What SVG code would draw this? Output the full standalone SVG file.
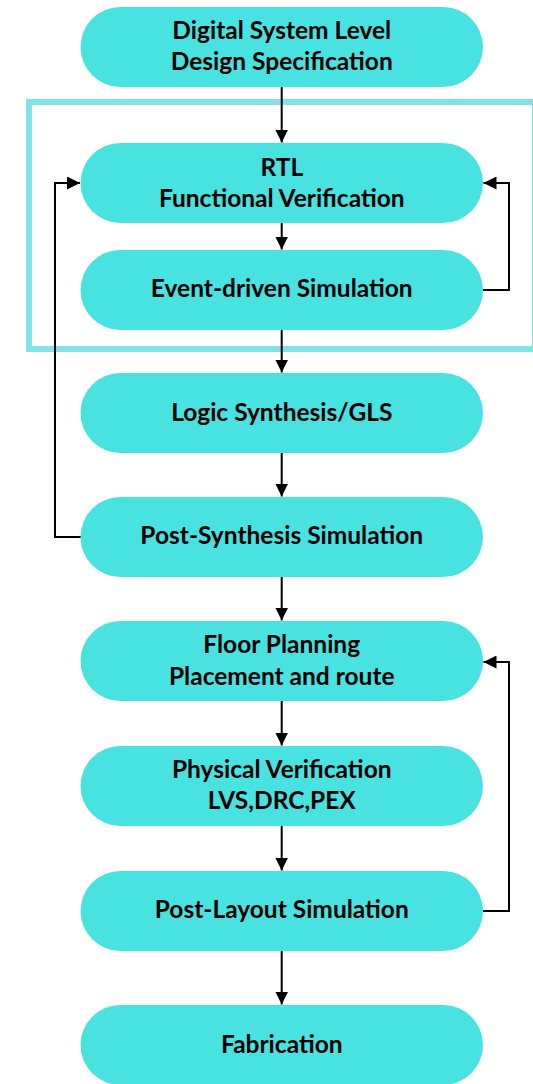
<svg xmlns="http://www.w3.org/2000/svg" width="533" height="1084" viewBox="0 0 533 1084">
<style>
.node{fill:#48E2E1;}
.lbl{font-family:Lato,"Liberation Sans",sans-serif;font-weight:bold;font-size:24.5px;fill:#000;text-anchor:middle;}
.edge{fill:none;stroke:#000;stroke-width:2;}
.frame{fill:none;stroke:#7FE3E8;stroke-width:6;}
</style>
<defs>
<marker id="arr" markerUnits="userSpaceOnUse" markerWidth="14" markerHeight="13" refX="13" refY="6.5" orient="auto">
<path d="M0,0 L13,6.5 L0,13 z" fill="#000"/>
</marker>
</defs>
<rect class="frame" x="29" y="102" width="506" height="247"/>
<g id="connectors">
<path class="edge" d="M281.7,87 V142.5" marker-end="url(#arr)"/>
<path class="edge" d="M281.7,223 V249.5" marker-end="url(#arr)"/>
<path class="edge" d="M281.7,330 V372.5" marker-end="url(#arr)"/>
<path class="edge" d="M281.7,453 V496.5" marker-end="url(#arr)"/>
<path class="edge" d="M281.7,577 V620.5" marker-end="url(#arr)"/>
<path class="edge" d="M281.7,701 V745.5" marker-end="url(#arr)"/>
<path class="edge" d="M281.7,826 V870.5" marker-end="url(#arr)"/>
<path class="edge" d="M281.7,951 V1004.5" marker-end="url(#arr)"/>
<path class="edge" d="M81,537 H55 V183 H80" marker-end="url(#arr)"/>
<path class="edge" d="M483,290 H509 V183 H483.5" marker-end="url(#arr)"/>
<path class="edge" d="M483,911 H509 V662 H483.5" marker-end="url(#arr)"/>
</g>
<g id="n1"><rect class="node" x="80.5" y="7" width="402.5" height="80" rx="40"/><text class="lbl" x="281.75" y="39">Digital System Level</text><text class="lbl" x="281.75" y="70">Design Specification</text></g>
<g id="n2"><rect class="node" x="80.5" y="143" width="402.5" height="80" rx="40"/><text class="lbl" x="281.75" y="176">RTL</text><text class="lbl" x="281.75" y="207">Functional Verification</text></g>
<g id="n3"><rect class="node" x="80.5" y="250" width="402.5" height="80" rx="40"/><text class="lbl" x="281.75" y="297">Event-driven Simulation</text></g>
<g id="n4"><rect class="node" x="80.5" y="373" width="402.5" height="80" rx="40"/><text class="lbl" x="281.75" y="421">Logic Synthesis/GLS</text></g>
<g id="n5"><rect class="node" x="80.5" y="497" width="402.5" height="80" rx="40"/><text class="lbl" x="281.75" y="544">Post-Synthesis Simulation</text></g>
<g id="n6"><rect class="node" x="80.5" y="621" width="402.5" height="80" rx="40"/><text class="lbl" x="281.75" y="653">Floor Planning</text><text class="lbl" x="281.75" y="685">Placement and route</text></g>
<g id="n7"><rect class="node" x="80.5" y="746" width="402.5" height="80" rx="40"/><text class="lbl" x="281.75" y="778">Physical Verification</text><text class="lbl" x="281.75" y="809">LVS,DRC,PEX</text></g>
<g id="n8"><rect class="node" x="80.5" y="871" width="402.5" height="80" rx="40"/><text class="lbl" x="281.75" y="918">Post-Layout Simulation</text></g>
<g id="n9"><rect class="node" x="80.5" y="1005" width="402.5" height="80" rx="40"/><text class="lbl" x="281.75" y="1053">Fabrication</text></g>
</svg>
